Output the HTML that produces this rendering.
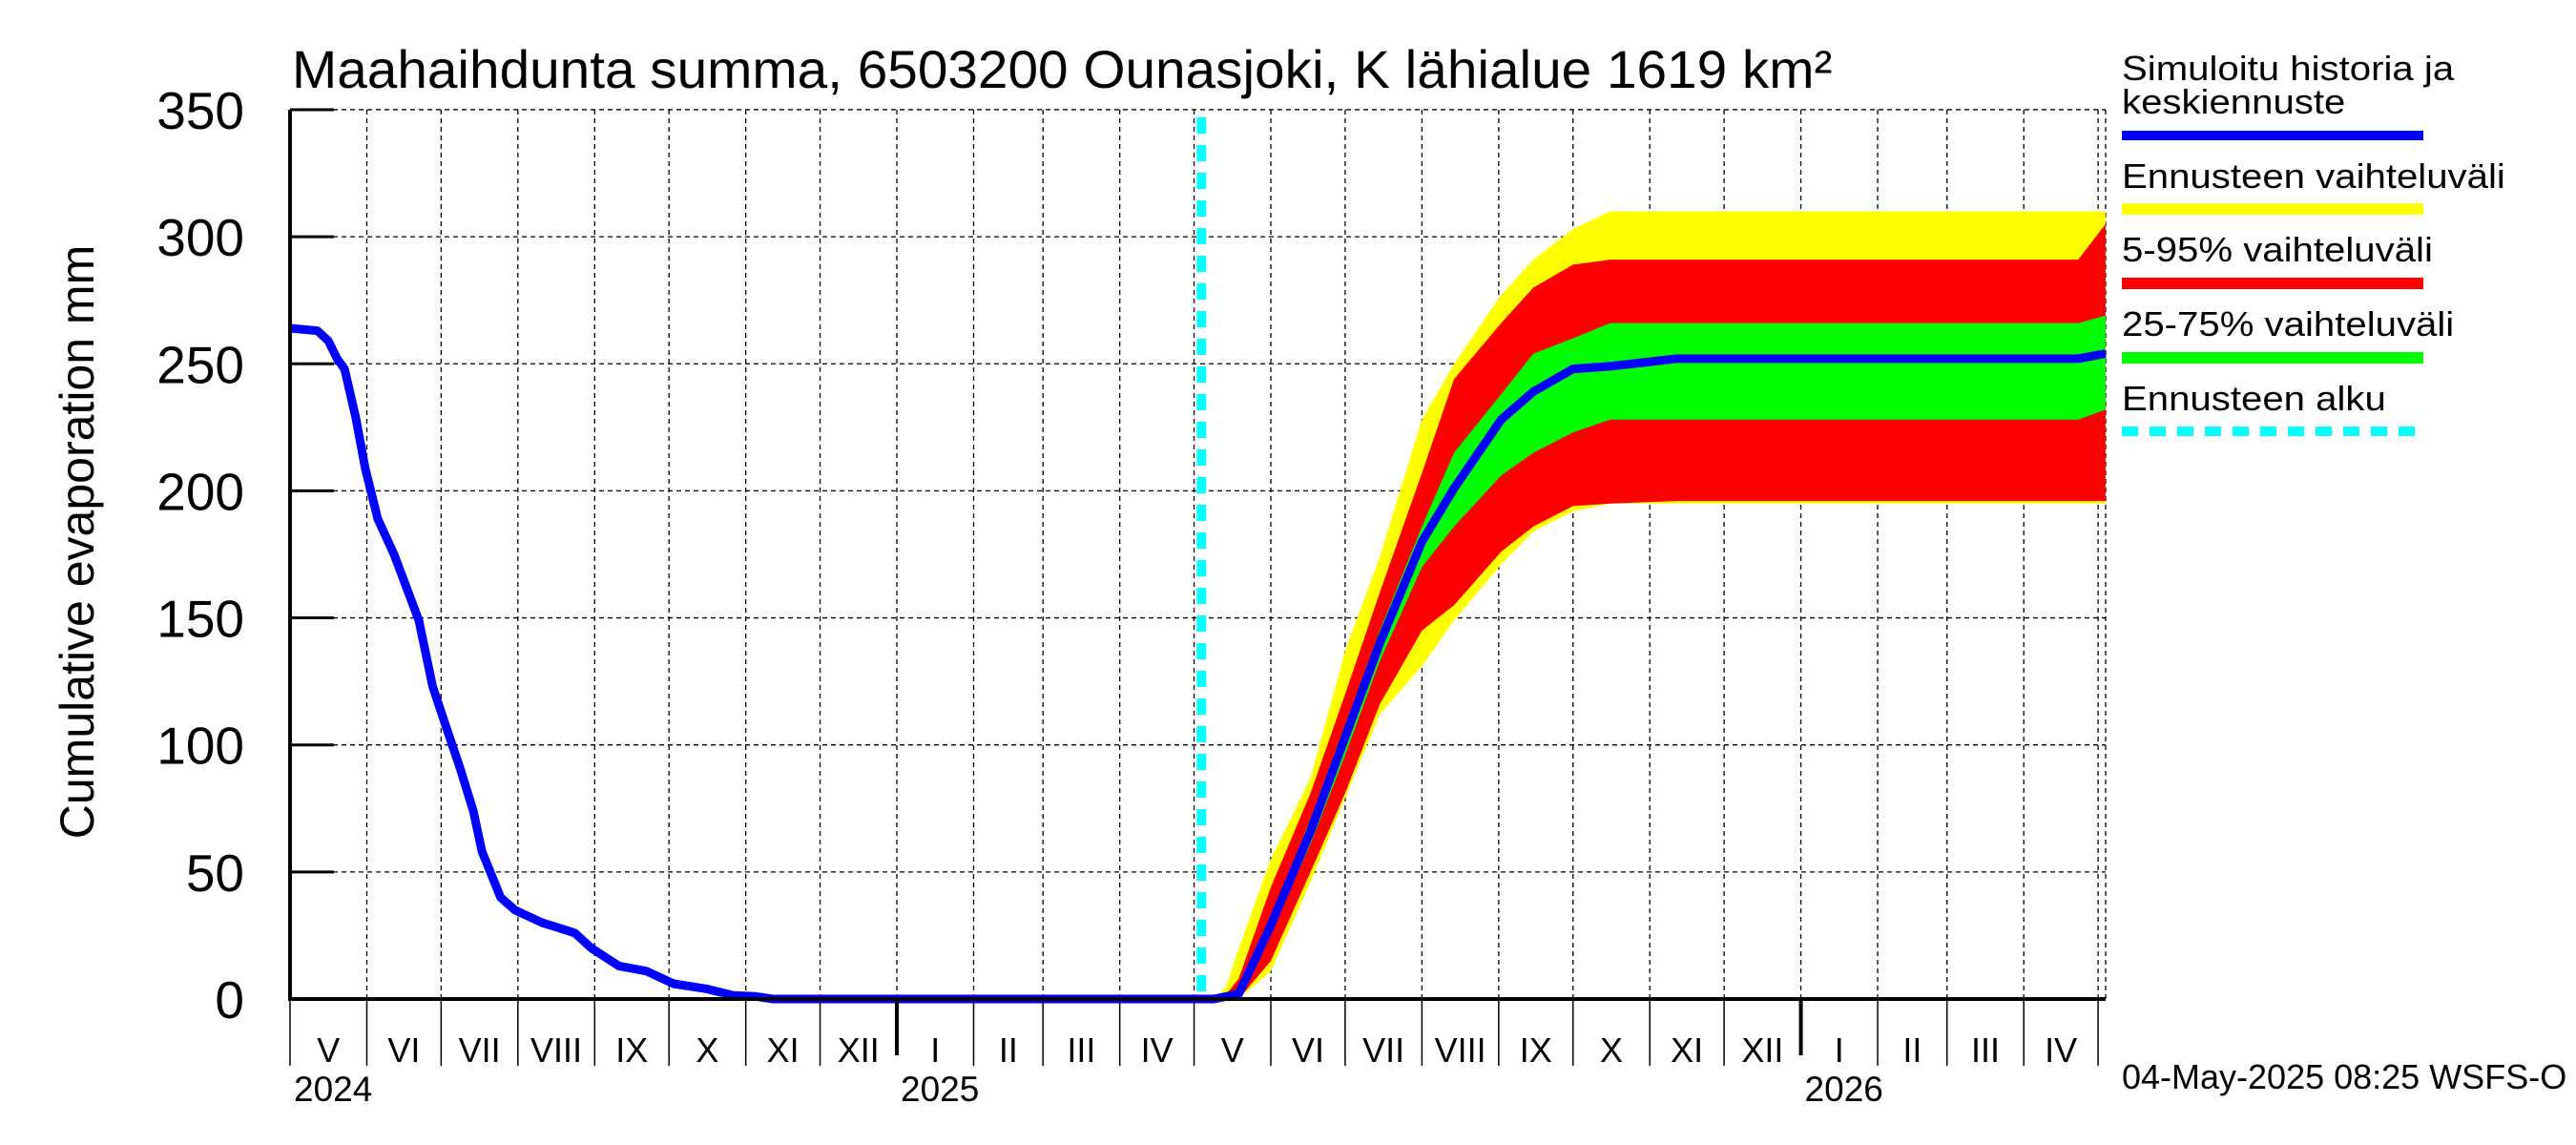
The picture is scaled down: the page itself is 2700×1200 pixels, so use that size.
<!DOCTYPE html>
<html><head><meta charset="utf-8"><title>Maahaihdunta summa</title>
<style>html,body{margin:0;padding:0;background:#fff}svg{display:block}text{font-family:"Liberation Sans",sans-serif;fill:#000}</style>
</head><body>
<svg id="chart" xmlns="http://www.w3.org/2000/svg" width="2700" height="1200" viewBox="0 0 2700 1200">
<g id="grid"></g>
<g id="bands"></g>
<g id="lines"></g>
<g id="axes"></g>
<g transform="translate(306,0) scale(1.013,1) translate(-306,0)">
<text x="306" y="92" font-size="56">Maahaihdunta summa, 6503200 Ounasjoki, K lähialue 1619 km²</text>
</g>
<text transform="translate(98,568) rotate(-90)" text-anchor="middle" font-size="50">Cumulative evaporation   mm</text>
<g>
<g transform="translate(2224,0) scale(1.116,1) translate(-2224,0)" font-size="36">
<text x="2224" y="84">Simuloitu historia ja</text>
<text x="2224" y="119">keskiennuste</text>
<text x="2224" y="197">Ennusteen vaihteluväli</text>
<text x="2224" y="274">5-95% vaihteluväli</text>
<text x="2224" y="352">25-75% vaihteluväli</text>
<text x="2224" y="430">Ennusteen alku</text>
</g>
<rect x="2224" y="137" width="316" height="10" fill="#0000ff"/>
<rect x="2224" y="213" width="316" height="12" fill="#ffff00"/>
<rect x="2224" y="291" width="316" height="12" fill="#ff0000"/>
<rect x="2224" y="369" width="316" height="12" fill="#00ff00"/>
<line x1="2224" y1="452" x2="2540" y2="452" stroke="#00ffff" stroke-width="10" stroke-dasharray="17,12"/>
</g>
<text x="2224" y="1141" font-size="36">04-May-2025 08:25 WSFS-O</text>
</svg>
<script>
const yTicks=[0,50,100,150,200,250,300,350];
const monthLabels=["V","VI","VII","VIII","IX","X","XI","XII","I","II","III","IV","V","VI","VII","VIII","IX","X","XI","XII","I","II","III","IV"];
const monthDays=[31,30,31,31,30,31,30,31,31,28,31,30,31,30,31,31,30,31,30,31,31,28,31,30];
const yearLabels=["2024","2025","2026"];
const yearStartDays=[0,245,610];
const forecastStartDay=368;
const histDays=[0,11,15.5,19,22,26.5,30.3,35.4,42,52,57.6,62,68.6,74,77.5,85,90.8,101.8,108.5,115,121.7,132.8,143.8,154.9,168,179,188,195,373];
const histValues=[264,263,259,252,248,229,209,189,175,149,123,110,91,74,58,40,35,30,28,26,20,13,11,6,4,1.4,1,0,0];
const fDays=[373,378,383,396,412,426,440,457,470,489,502,518,533,560,722,733];
const yellowHi=[0,5,20,55,87,137,174,228,250,277,291,303,310,310,310,310];
const redHi=[0,2,8,44,81,120,160,207,244,266,280,289,291,291,291,305];
const greenHi=[0,1,4,32,71,108,145,186,215,238,254,260,266,266,266,269];
const median=[0,1,2,29,66,103,140,180,201,228,239,248,249,252,252,254];
const greenLo=[0,0,1,26,61,96,133,170,186,206,215,223,228,228,228,232];
const redLo=[0,0,0,15,50,81,116,145,155,176,186,194,195,196,196,196];
const yellowLo=[0,0,0,11,46,79,112,131,149,171,184,192,195,195,195,195];

const X0=304,PXD=2.596,Y0=1047,PXV=2.663,XR=2207,YT=115;
const xs=d=>X0+d*PXD, ys=v=>Y0-v*PXV;
const NS="http://www.w3.org/2000/svg";
function mk(tag,attrs,parent){const e=document.createElementNS(NS,tag);for(const k in attrs)e.setAttribute(k,attrs[k]);parent.appendChild(e);return e;}
const grid=document.getElementById('grid'),bands=document.getElementById('bands'),lines=document.getElementById('lines'),axes=document.getElementById('axes');

yTicks.forEach(v=>{
 const g=mk('line',{x1:X0,x2:XR,y1:ys(v),y2:ys(v),stroke:'#000','stroke-width':1.3,'stroke-dasharray':'5,4'},grid);
 
 
 const t=mk('line',{x1:X0,x2:350,y1:ys(v),y2:ys(v),stroke:'#000','stroke-width':3},axes);
 
 
 const l=mk('text',{x:256,y:ys(v)+20,'text-anchor':'end','font-size':55},axes);
 l.textContent=v;
 
 
});
let d=0;
monthLabels.forEach((m,i)=>{
 const x=xs(d);
 const isYear=yearStartDays.indexOf(d)>=0;
 const g=mk('line',{x1:x,x2:x,y1:YT,y2:Y0,stroke:'#000','stroke-width':1.3,'stroke-dasharray':'5,4'},grid);
 
 
 const t=mk('line',{x1:x,x2:x,y1:Y0,y2:isYear&&d>0?1106:1117,stroke:'#000','stroke-width':isYear&&d>0?4:1.5},axes);
 
 
 const l=mk('text',{x:x+monthDays[i]*PXD/2,y:1113,'text-anchor':'middle','font-size':36},axes);
 l.textContent=m;
 
 
 d+=monthDays[i];
});
{const x=xs(d);
 const g=mk('line',{x1:x,x2:x,y1:YT,y2:Y0,stroke:'#000','stroke-width':1.3,'stroke-dasharray':'5,4'},grid);
 
 
 const t=mk('line',{x1:x,x2:x,y1:Y0,y2:1117,stroke:'#000','stroke-width':1.5},axes);
 
 }
{const r=mk('line',{x1:XR,x2:XR,y1:YT,y2:Y0,stroke:'#000','stroke-width':1.3,'stroke-dasharray':'5,4'},grid);
 
 }
yearLabels.forEach((y,i)=>{
 const l=mk('text',{x:xs(yearStartDays[i])+4,y:1154,'font-size':37},axes);
 l.textContent=y;
 
 
});
{const a=mk('line',{x1:X0,x2:X0,y1:YT,y2:Y0+2,stroke:'#000','stroke-width':4},axes);
 
 
 const b=mk('line',{x1:X0,x2:XR,y1:Y0,y2:Y0,stroke:'#000','stroke-width':4},axes);
 
 }
function band(hi,lo,color,name){
 const pts=[];
 fDays.forEach((dd,i)=>pts.push(xs(dd).toFixed(1)+','+ys(hi[i]).toFixed(1)));
 for(let i=fDays.length-1;i>=0;i--)pts.push(xs(fDays[i]).toFixed(1)+','+ys(lo[i]).toFixed(1));
 const p=mk('polygon',{points:pts.join(' '),fill:color},bands);
 
 
}
band(yellowHi,yellowLo,'#ffff00','band-min-max');
band(redHi,redLo,'#ff0000','band-5-95');
band(greenHi,greenLo,'#00ff00','band-25-75');
{const c=mk('line',{x1:xs(forecastStartDay),x2:xs(forecastStartDay),y1:123,y2:Y0,stroke:'#00ffff','stroke-width':10,'stroke-dasharray':'17,12'},lines);
 
 }
{const pts=[];
 histDays.forEach((dd,i)=>pts.push(xs(dd).toFixed(1)+','+ys(histValues[i]).toFixed(1)));
 fDays.forEach((dd,i)=>pts.push(xs(dd).toFixed(1)+','+ys(median[i]).toFixed(1)));
 const p=mk('polyline',{points:pts.join(' '),fill:'none',stroke:'#0000ff','stroke-width':9,'stroke-linejoin':'round'},lines);
 
 }
</script>
</body></html>
